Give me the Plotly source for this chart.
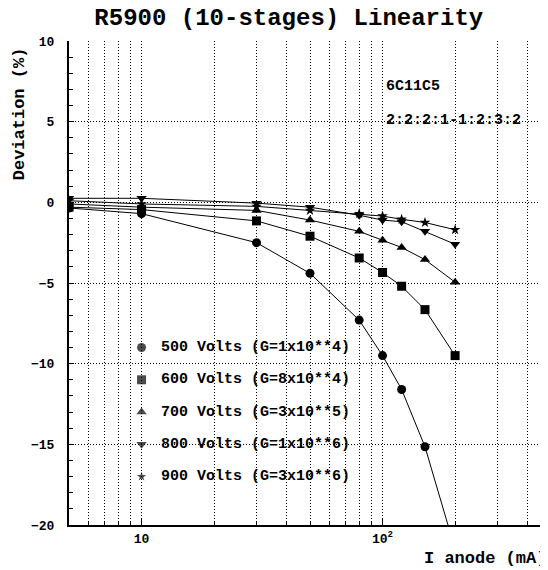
import math
import plotly.graph_objects as go

# ---- data ----
current_ma = [5, 10, 30, 50, 80, 100, 120, 150, 200]
dev_500 = [-0.35, -0.7, -2.5, -4.4, -7.3, -9.5, -11.6, -15.15, -21.5]
dev_600 = [-0.3, -0.45, -1.15, -2.1, -3.45, -4.35, -5.2, -6.65, -9.5]
dev_700 = [-0.1, -0.3, -0.5, -1.1, -1.8, -2.35, -2.8, -3.55, -4.95]
dev_800 = [0.25, 0.25, -0.05, -0.3, -0.8, -1.1, -1.2, -1.8, -2.6]
dev_900 = [0.1, -0.1, -0.25, -0.5, -0.7, -0.85, -1.05, -1.25, -1.7]

series_names = ["500 Volts (G=1x10**4)", "600 Volts (G=8x10**4)",
                "700 Volts (G=3x10**5)", "800 Volts (G=1x10**6)",
                "900 Volts (G=3x10**6)"]
series_values = [dev_500, dev_600, dev_700, dev_800, dev_900]
series_symbols = ["circle", "square", "triangle-up", "triangle-down", "star"]
series_sizes = [9, 9, 9, 9, 8]

legend_x = 10
legend_y = [-9, -11, -13, -15, -17]

x_grid = [5, 6, 7, 8, 9, 10, 20, 30, 40, 50, 60, 70, 80, 90, 100, 200, 300, 400]
x_tickvals = [10, 100]
x_ticktext = ["10", "10<sup>2</sup>"]

FONT = "Liberation Mono"
DOT = "1px,2px"

fig = go.Figure()
for name, vals, sym, sz in zip(series_names, series_values, series_symbols, series_sizes):
    fig.add_trace(go.Scatter(
        x=current_ma, y=vals, mode="lines+markers", name=name,
        line=dict(color="black", width=1),
        marker=dict(symbol=sym, size=sz, color="black", line=dict(width=0)),
        showlegend=False, cliponaxis=True))

# legend markers
fig.add_trace(go.Scatter(
    x=[legend_x] * len(legend_y), y=legend_y, mode="markers",
    marker=dict(symbol=series_symbols, size=[9, 9, 9, 9, 7], color="black", line=dict(width=0)),
    showlegend=False, hoverinfo="skip"))

for name, yv in zip(series_names, legend_y):
    fig.add_annotation(x=0.188, xref="paper", y=yv, yref="y", text=name,
                       showarrow=False, xanchor="left", yanchor="middle",
                       font=dict(family=FONT, size=15, color="black", weight="bold"))

fig.add_annotation(x=0.657, xref="paper", y=7.2, yref="y", text="6C11C5",
                   showarrow=False, xanchor="left", yanchor="middle",
                   font=dict(family=FONT, size=15, color="black", weight="bold"))
fig.add_annotation(x=0.657, xref="paper", y=5.1, yref="y", text="2:2:2:1-1:2:3:2",
                   showarrow=False, xanchor="left", yanchor="middle",
                   font=dict(family=FONT, size=15, color="black", weight="bold"))

# axis titles
fig.add_annotation(x=1.0, xref="paper", y=-0.07, yref="paper", text="I anode (mA)",
                   showarrow=False, xanchor="right", yanchor="middle",
                   font=dict(family=FONT, size=17, color="black", weight="bold"))
fig.add_annotation(x=-0.103, xref="paper", y=5.5, yref="y", text="Deviation (%)",
                   showarrow=False, textangle=-90, xanchor="center", yanchor="middle",
                   font=dict(family=FONT, size=17, color="black", weight="bold"))

x_lo = math.log10(5)
x_hi = x_lo + 479 / 241

fig.update_layout(
    width=540, height=562,
    margin=dict(l=61, r=0, t=33, b=45),
    paper_bgcolor="white", plot_bgcolor="white",
    title=dict(text="R5900 (10-stages) Linearity", x=0.52, xanchor="center",
               y=0.984, yanchor="middle",
               font=dict(family=FONT, size=24, color="black", weight="bold")),
    xaxis=dict(type="log", range=[x_lo, x_hi],
               tickvals=x_tickvals, ticktext=x_ticktext,
               ticks="inside", ticklen=6, tickcolor="black",
               showgrid=True, gridcolor="black", griddash=DOT, gridwidth=1,
               showline=True, linecolor="black", linewidth=2,
               minor=dict(tickvals=x_grid, showgrid=True, gridcolor="black",
                          griddash=DOT, gridwidth=1, ticks="inside", ticklen=4,
                          tickcolor="black"),
               tickfont=dict(family=FONT, size=13, color="black", weight="bold"),
               zeroline=False, fixedrange=True),
    yaxis=dict(range=[-20, 10], tickvals=[-20, -15, -10, -5, 0, 5, 10],
               ticks="inside", ticklen=5, tickcolor="black",
               showgrid=True, gridcolor="black", griddash=DOT, gridwidth=1,
               showline=True, linecolor="black", linewidth=2,
               minor=dict(dtick=1, ticks="inside", ticklen=4, tickcolor="black", showgrid=False),
               tickfont=dict(family=FONT, size=13, color="black", weight="bold"),
               ticklabelstandoff=10,
               zeroline=False, fixedrange=True),
)

fig.write_html("out.html")
